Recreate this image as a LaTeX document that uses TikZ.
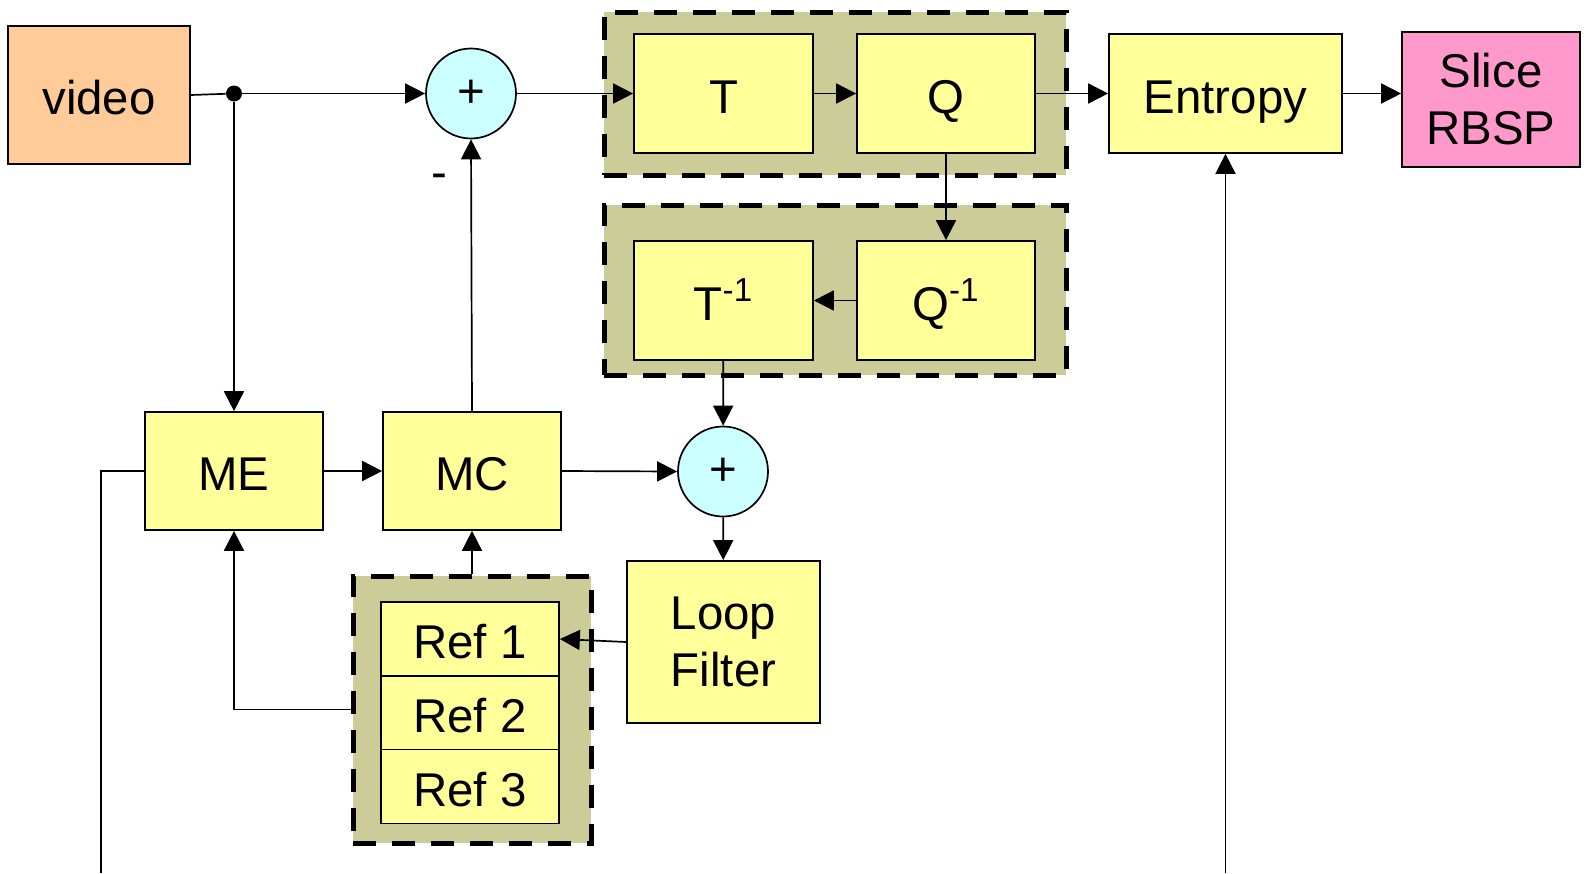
\documentclass[tikz,border=0pt]{standalone}
\usepackage{fontspec}
\setmainfont{Liberation Sans}
\usetikzlibrary{arrows.meta,calc}
\definecolor{boxyel}{HTML}{FFFF99}
\definecolor{videocol}{HTML}{FFCC99}
\definecolor{slicecol}{HTML}{FF99CC}
\definecolor{sumcol}{HTML}{CCFFFF}
\definecolor{grpcol}{HTML}{CCCC99}
\begin{document}
\begin{tikzpicture}[x=0.5pt,y=-0.5pt,
 every node/.style={font=\fontsize{23.7}{28.5}\selectfont, inner sep=0pt, align=center},
 blk/.style={draw=black, line width=0.85pt, fill=boxyel, rectangle},
 oneline/.style={text height=20pt, text depth=0.5pt},
 grp/.style={draw=black, line width=2.5pt, dash pattern=on 11.5pt off 8pt, fill=grpcol, rectangle},
 sumnode/.style={draw=black, circle, fill=sumcol, minimum size=45pt, line width=0.85pt},
 conn/.style={line width=0.85pt},
 arr/.style={conn, -{Triangle[length=10pt,width=10pt]}},
]
\useasboundingbox (0,0) rectangle (1584,873);
% groups
\node[grp, minimum width=231pt, minimum height=81.5pt] (tqgrp) at (835,93.5) {};
\node[grp, minimum width=231pt, minimum height=85pt] (invgrp) at (835,290) {};
\node[grp, minimum width=119pt, minimum height=133.5pt] (refgrp) at (472,709.5) {};
% blocks
\node[blk, oneline, fill=videocol, minimum width=91pt, minimum height=69pt] (video) at (99,95) {video};
\node[circle, fill=black, minimum size=8pt] (dot) at (234,93.5) {};
\node[sumnode] (sum1) at (471,93.5) {+};
\node (minus) at (439,181) {-};
\node[blk, oneline, minimum width=89.5pt, minimum height=59.5pt] (T) at (723.5,93.5) {T};
\node[blk, oneline, minimum width=89pt, minimum height=59.5pt] (Q) at (946,93.5) {Q};
\node[blk, oneline, minimum width=116.5pt, minimum height=59.5pt] (ent) at (1225.5,93.5) {Entropy};
\node[blk, fill=slicecol, minimum width=89pt, minimum height=67.5pt] (slice) at (1491,99.5) {Slice\\RBSP};
\node[blk, oneline, minimum width=89.5pt, minimum height=59.5pt] (Ti) at (723.5,300.5) {T\textsuperscript{-1}};
\node[blk, oneline, minimum width=89pt, minimum height=59.5pt] (Qi) at (946,300.5) {Q\textsuperscript{-1}};
\node[sumnode] (sum2) at (723,471.5) {+};
\node[blk, oneline, minimum width=89pt, minimum height=59pt] (ME) at (234,471) {ME};
\node[blk, oneline, minimum width=89pt, minimum height=59pt] (MC) at (472,471) {MC};
\node[blk, minimum width=96.5pt, minimum height=81pt] (lf) at (723.5,642) {Loop\\Filter};
\node[blk, oneline, minimum width=89pt, minimum height=37pt] (ref1) at (470,639) {Ref 1};
\node[blk, oneline, minimum width=89pt, minimum height=37pt] (ref2) at (470,713) {Ref 2};
\node[blk, oneline, minimum width=89pt, minimum height=37pt] (ref3) at (470,786.5) {Ref 3};
\coordinate (meout) at (101,873);
\coordinate (entin) at (1225.5,873);
% connectors
\draw[conn] (video.east) -- (dot);
\draw[arr] (dot) -- (sum1.west);
\draw[arr] (dot) -- (ME.north);
\draw[arr] (MC.north) -- (sum1.south);
\draw[arr] (sum1.east) -- (T.west);
\draw[arr] (T) -- (Q);
\draw[arr] (Q) -- (ent);
\draw[arr] (ent.east) -- (ent.east -| slice.west);
\draw[arr] (Q) -- (Qi);
\draw[arr] (Qi) -- (Ti);
\draw[arr] (Ti) -- (sum2);
\draw[arr] (ME) -- (MC);
\draw[arr] (MC.east) -- (sum2.west);
\draw[arr] (sum2) -- (lf);
\draw[arr] (lf.west) -- (ref1.east);
\draw[arr] (refgrp.north) -- (MC.south);
\draw[arr] (refgrp.west) -| (ME.south);
\draw[conn] (ME.west) -| (meout);
\draw[arr] (entin) -- (ent.south);
\end{tikzpicture}
\end{document}
